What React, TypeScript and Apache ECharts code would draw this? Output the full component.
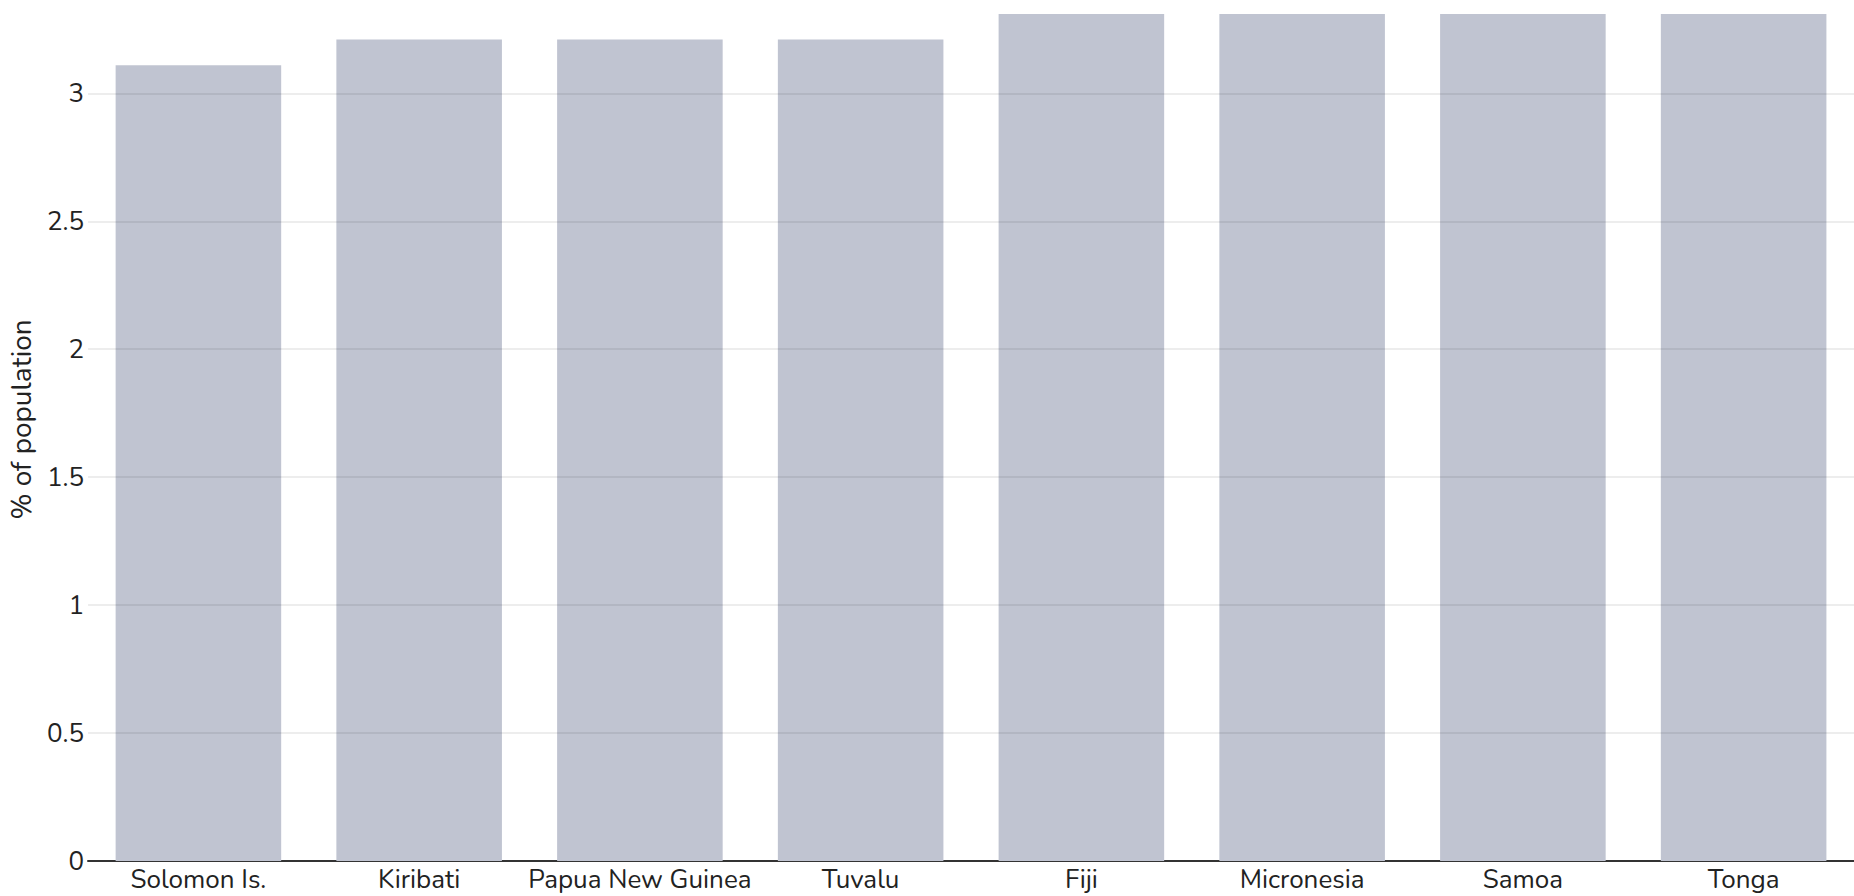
import React, { useEffect, useRef } from "react";
import * as echarts from "echarts";

const categories = ["Solomon Is.", "Kiribati", "Papua New Guinea", "Tuvalu", "Fiji", "Micronesia", "Samoa", "Tonga"];
const values = [3.11, 3.21, 3.21, 3.21, 3.31, 3.31, 3.31, 3.31];
const gridTicks = [0.5, 1, 1.5, 2, 2.5, 3];

const FONT = "Nunito, Lato, 'Noto Sans', sans-serif";

export default function App() {
  const ref = useRef<HTMLDivElement>(null);
  useEffect(() => {
    document.body.style.margin = "0";
    document.body.style.overflow = "hidden";
    const chart = echarts.init(ref.current!, null, { renderer: "svg", width: 1854, height: 896 });
    chart.setOption({
      animation: false,
      grid: { left: 85, right: 0, top: 14, bottom: 35, containLabel: false },
      xAxis: {
        type: "category",
        data: categories,
        axisLine: { show: true, lineStyle: { color: "#333", width: 2 } },
        axisTick: { show: false },
        axisLabel: { color: "#222", fontSize: 26, lineHeight: 26, fontFamily: FONT, margin: 5, interval: 0 },
      },
      yAxis: {
        type: "value",
        min: 0,
        max: 3.31,
        interval: 0.5,
        name: "% of population",
        nameLocation: "middle",
        nameGap: 52,
        nameTextStyle: { color: "#222", fontSize: 28, fontFamily: FONT, padding: [0, 0, 0, 36] },
        axisLine: { show: false },
        axisTick: { show: false },
        splitLine: { show: false },
        axisLabel: { color: "#222", fontSize: 26, fontFamily: FONT, margin: 4, showMaxLabel: false },
      },
      series: [
        {
          type: "bar",
          data: values,
          barCategoryGap: "25%",
          itemStyle: { color: "#c0c4d1" },
          markLine: {
            silent: true,
            symbol: ["none", "none"],
            label: { show: false },
            lineStyle: { color: "rgba(0,0,0,0.07)", width: 2, type: "solid" },
            data: gridTicks.map((v) => ({ yAxis: v })),
          },
        },
      ],
    });
    return () => chart.dispose();
  }, []);
  return <div ref={ref} style={{ width: 1854, height: 896 }} />;
}
